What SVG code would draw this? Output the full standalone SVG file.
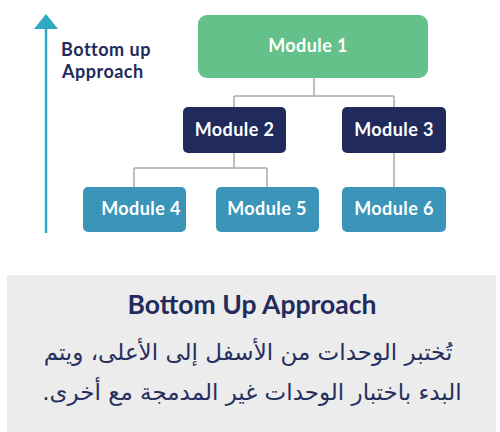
<svg xmlns="http://www.w3.org/2000/svg" width="500" height="432" viewBox="0 0 500 432">
<style>
.m{font-family:Lato,"Open Sans",sans-serif;font-weight:bold;font-size:18px;letter-spacing:0.4px;fill:#ffffff;text-anchor:middle}
.c{fill:none;stroke:#aaaaaa;stroke-width:1.5}
.lbl{font-family:Lato,"Open Sans",sans-serif;font-weight:bold;font-size:18px;letter-spacing:0.5px;fill:#232a5c}
.ar{font-family:"DejaVu Sans",sans-serif;font-size:23px;fill:#27305f;text-anchor:middle}
</style>
<rect x="0" y="0" width="500" height="432" fill="#ffffff"/>
<g id="arrow">
<line x1="46" y1="233" x2="46" y2="28" stroke="#2fa8c4" stroke-width="2.5"/>
<polygon points="46,14 58,29 34,29" fill="#2fa8c4"/>
<text class="lbl" x="61" y="56">Bottom up</text>
<text class="lbl" x="62" y="78">Approach</text>
</g>
<g id="connectors">
<path class="c" d="M314,78 V96 M234,96 H394 M234,96 V107 M394,96 V107"/>
<path class="c" d="M234,153 V168 M134,168 H267 M134,168 V187 M267,168 V187"/>
<path class="c" d="M394,153 V187"/>
</g>
<g id="module1"><rect x="198" y="15" width="230" height="63" rx="9" fill="#63c189"/><text class="m" x="308" y="52">Module 1</text></g>
<g id="module2"><rect x="183" y="107" width="103" height="46" rx="5" fill="#212a5c"/><text class="m" x="234.500" y="136">Module 2</text></g>
<g id="module3"><rect x="342" y="107" width="104" height="46" rx="5" fill="#212a5c"/><text class="m" x="394" y="136">Module 3</text></g>
<g id="module4"><rect x="83" y="187" width="103" height="45" rx="5" fill="#3a95b8"/><text class="m" x="141" y="215">Module 4</text></g>
<g id="module5"><rect x="216" y="187" width="103" height="45" rx="5" fill="#3a95b8"/><text class="m" x="267" y="215">Module 5</text></g>
<g id="module6"><rect x="342" y="187" width="104" height="45" rx="5" fill="#3a95b8"/><text class="m" x="394" y="215">Module 6</text></g>
<g id="caption">
<rect x="7" y="275" width="489" height="157" fill="#ececec"/>
<text x="252" y="314" font-family="Lato,'Open Sans',sans-serif" font-weight="bold" font-size="26.5" fill="#232a5c" text-anchor="middle">Bottom Up Approach</text>
<text class="ar" x="248" y="360" direction="rtl" font-size="24">تُختبر الوحدات من الأسفل إلى الأعلى، ويتم</text>
<text class="ar" x="252" y="400" direction="rtl">البدء باختبار الوحدات غير المدمجة مع أخرى.</text>
</g>
</svg>
